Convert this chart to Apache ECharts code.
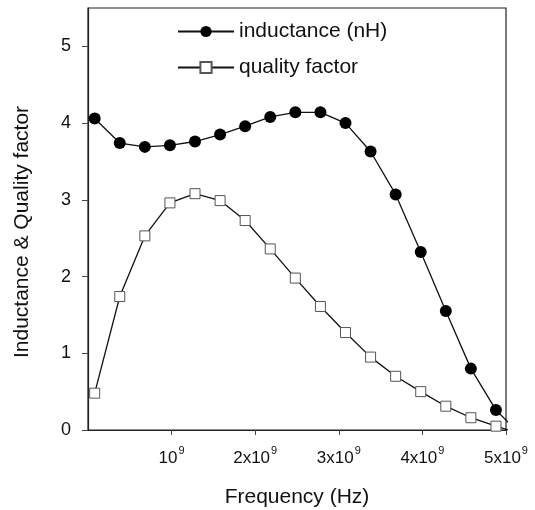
<!DOCTYPE html>
<html>
<head>
<meta charset="utf-8">
<script src="https://cdn.jsdelivr.net/npm/echarts@6/dist/echarts.min.js"></script>
<style>html,body{margin:0;padding:0;background:#fff}#c{width:535px;height:510px}</style>
</head>
<body>
<div id="c"></div>
<script>
// frequency in units of 1e9 Hz (last point lies beyond the axis and is clipped)
var freqGHz = [0.08,0.38,0.68,0.98,1.28,1.58,1.88,2.18,2.48,2.78,3.08,3.38,3.68,3.98,4.28,4.58,4.88,5.18];
var inductance = [4.06,3.74,3.69,3.71,3.76,3.85,3.96,4.08,4.14,4.14,4.00,3.63,3.07,2.32,1.55,0.80,0.26,-0.07];
var quality = [0.48,1.74,2.53,2.96,3.08,2.99,2.73,2.36,1.98,1.61,1.27,0.95,0.70,0.50,0.31,0.16,0.05,-0.05];
var yTicks = [0,1,2,3,4,5];
var xTicks = [1e9,2e9,3e9,4e9,5e9];

function pairs(ys){ return ys.map(function(v,i){ return [freqGHz[i]*1e9, v]; }); }

var font = 'Liberation Sans, Arial, sans-serif';
var chart = echarts.init(document.getElementById('c'), null, {renderer:'canvas'});
chart.setOption({
  animation:false,
  backgroundColor:'#fff',
  textStyle:{fontFamily:font, color:'#111'},
  grid:{left:88, right:29, top:8, bottom:80, outerBoundsMode:'none', containLabel:false,
        show:true, borderColor:'#222', borderWidth:1.2, backgroundColor:'transparent'},
  legend:{
    orient:'vertical', left:172, top:16, itemGap:15, itemWidth:56, itemHeight:14,
    textStyle:{fontFamily:font, fontSize:21, color:'#111', padding:[0,0,0,0]},
    data:['inductance (nH)','quality factor']
  },
  xAxis:{
    type:'value', min:0, max:5e9, interval:1e9,
    name:'Frequency (Hz)', nameLocation:'middle', nameGap:57,
    nameTextStyle:{fontFamily:font, fontSize:21, color:'#111'},
    axisLine:{show:true, onZero:false, lineStyle:{color:'#222', width:1.2}},
    axisTick:{show:true, inside:false, length:5, customValues:xTicks, lineStyle:{color:'#444'}},
    splitLine:{show:false},
    axisLabel:{
      margin:15,
      customValues:xTicks,
      formatter:function(v){
        var n = Math.round(v/1e9);
        if(n===0) return '';
        return (n===1 ? '{a|10}' : '{a|' + n + 'x10}') + '{b|9}';
      },
      rich:{
        a:{fontFamily:font, fontSize:17, color:'#111', lineHeight:22, verticalAlign:'bottom'},
        b:{fontFamily:font, fontSize:11, color:'#111', lineHeight:22, verticalAlign:'top', padding:[0,0,0,1]}
      }
    }
  },
  yAxis:{
    type:'value', min:0, max:5.5, interval:1,
    name:'Inductance & Quality factor', nameLocation:'middle', nameGap:55, nameRotate:90,
    nameTextStyle:{fontFamily:font, fontSize:21, color:'#111', padding:[0,26,0,0]},
    axisLine:{show:true, lineStyle:{color:'#222', width:1.2}},
    axisTick:{show:true, inside:false, length:6, customValues:yTicks, lineStyle:{color:'#444'}},
    splitLine:{show:false},
    axisLabel:{fontFamily:font, fontSize:18, color:'#111', margin:17, customValues:yTicks,
      formatter:function(v){ return yTicks.indexOf(v) >= 0 ? String(v) : ''; }}
  },
  series:[
    {
      name:'inductance (nH)', type:'line', clip:true,
      data:pairs(inductance),
      symbol:'circle', symbolSize:12,
      lineStyle:{color:'#111', width:1.3},
      itemStyle:{color:'#000', borderColor:'#000', borderWidth:0}
    },
    {
      name:'quality factor', type:'line', clip:true,
      data:pairs(quality),
      symbol:'rect', symbolSize:10,
      lineStyle:{color:'#111', width:1.3},
      itemStyle:{color:'#fff', borderColor:'#555', borderWidth:1}
    }
  ]
});
</script>
</body>
</html>
